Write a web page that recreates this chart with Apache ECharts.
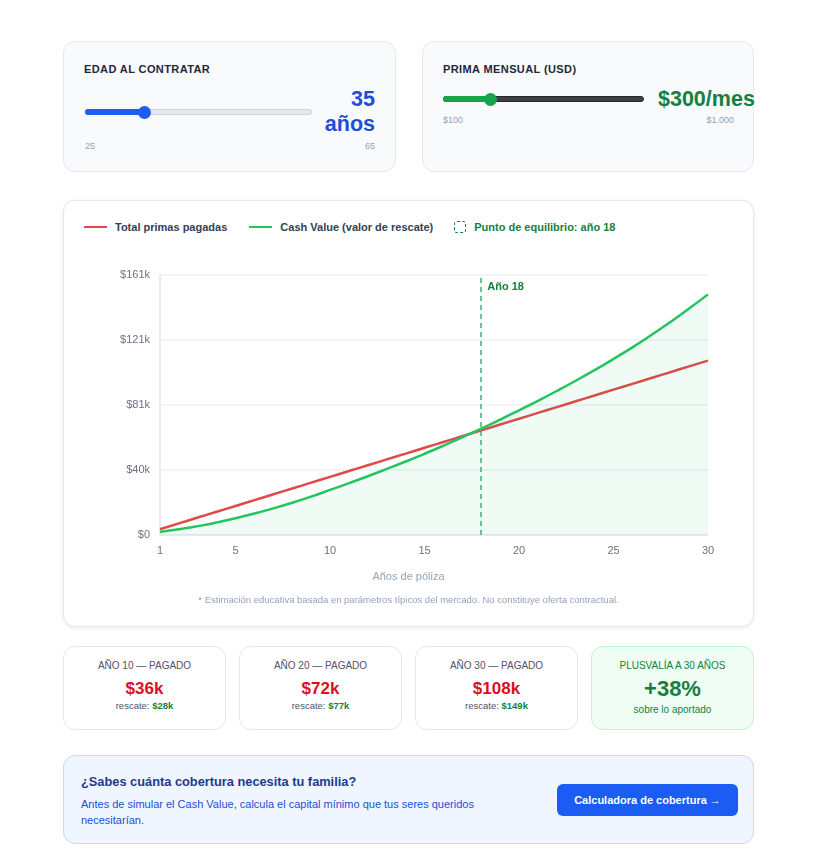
<!DOCTYPE html>
<html lang="es">
<head>
<meta charset="utf-8">
<script src="https://cdn.jsdelivr.net/npm/echarts@6/dist/echarts.min.js"></script>
<style>
  html,body{margin:0;padding:0;background:#ffffff;}
  body{width:828px;height:852px;position:relative;overflow:hidden;font-family:"Liberation Sans",Arial,Helvetica,sans-serif;}
  .card{position:absolute;box-sizing:border-box;border:1px solid #e2e8f0;border-radius:12px;}
  .ctl{background:#f8fafc;}
  .ctl-title{position:absolute;left:20px;top:21px;font-size:11px;font-weight:700;letter-spacing:0.4px;color:#1e293b;}
  .track{position:absolute;height:6px;border-radius:3px;box-sizing:border-box;}
  .fill{position:absolute;height:6px;border-radius:3px;}
  .thumb{position:absolute;width:13px;height:13px;border-radius:50%;}
  .small{position:absolute;font-size:9px;color:#94a3b8;}
  .big{position:absolute;font-size:21.5px;font-weight:700;line-height:25px;}
  .stat{background:#fff;text-align:center;}
  .stat .t{position:absolute;left:0;right:0;top:13px;font-size:10px;color:#4b5563;}
  .stat .v{position:absolute;left:0;right:0;top:32px;font-size:17px;font-weight:700;color:#dc1020;}
  .stat .s{position:absolute;left:0;right:0;top:53px;font-size:9.5px;color:#4b5563;}
  .stat .s b{color:#15803d;}
  .lg{font-weight:700;vertical-align:middle;}
</style>
</head>
<body>
<!-- control cards -->
<div class="card ctl" style="left:63px;top:41px;width:333px;height:131px;">
  <div class="ctl-title" id="ageTitle"></div>
  <div class="track" style="left:21px;top:67px;width:227px;background:#e5e7eb;border:1px solid #cbd5e1;"></div>
  <div class="fill" id="ageFill" style="left:21px;top:67px;background:#1d5cf5;"></div>
  <div class="thumb" id="ageThumb" style="top:63.5px;background:#1d5cf5;"></div>
  <div class="big" id="ageVal" style="right:20px;top:45px;text-align:right;color:#1d4ed8;"></div>
  <div class="small" id="ageMin" style="left:21px;top:99px;"></div>
  <div class="small" id="ageMax" style="right:20px;top:99px;"></div>
</div>
<div class="card ctl" style="left:422px;top:41px;width:332px;height:131px;">
  <div class="ctl-title" id="primTitle"></div>
  <div class="track" style="left:20px;top:54px;width:201px;background:#3f3f46;border:1px solid #27272a;"></div>
  <div class="fill" id="primFill" style="left:20px;top:54px;background:#16a34a;"></div>
  <div class="thumb" id="primThumb" style="top:50.5px;background:#16a34a;"></div>
  <div class="big" id="primVal" style="left:235px;top:45px;white-space:nowrap;color:#15803d;"></div>
  <div class="small" id="primMin" style="left:20px;top:73px;"></div>
  <div class="small" id="primMax" style="right:19px;top:73px;"></div>
</div>

<!-- chart card -->
<div class="card" style="left:63px;top:200px;width:691px;height:427px;background:#fff;box-shadow:0 1px 4px rgba(15,23,42,0.08);">
  <div style="position:absolute;left:20px;top:19px;font-size:11px;color:#334155;white-space:nowrap;">
    <span style="display:inline-block;width:23px;height:2.5px;background:#e24848;vertical-align:middle;margin-right:8px;"></span><span id="lg1" class="lg"></span>
    <span style="display:inline-block;width:23px;height:2.5px;background:#22c55e;vertical-align:middle;margin:0 8px 0 19px;"></span><span id="lg2" class="lg"></span>
    <span style="display:inline-block;width:10px;height:10px;border:1.2px dashed #15803d;border-radius:3px;vertical-align:middle;margin:0 8px 0 18px;"></span><span id="lg3" class="lg" style="color:#15803d;"></span>
  </div>
  <div id="chart" style="position:absolute;left:0;top:0;width:689px;height:380px;"></div>
  <div id="xname" style="position:absolute;left:0;right:0;top:369px;text-align:center;font-size:11px;color:#94a3b8;"></div>
  <div id="note" style="position:absolute;left:0;right:0;top:393px;text-align:center;font-size:9.5px;color:#94a3b8;"></div>
</div>

<!-- stat cards -->
<div class="card stat" id="st0" style="left:63px;top:646px;width:163px;height:84px;"><div class="t"></div><div class="v"></div><div class="s"></div></div>
<div class="card stat" id="st1" style="left:239px;top:646px;width:163px;height:84px;"><div class="t"></div><div class="v"></div><div class="s"></div></div>
<div class="card stat" id="st2" style="left:415px;top:646px;width:163px;height:84px;"><div class="t"></div><div class="v"></div><div class="s"></div></div>
<div class="card stat" id="st3" style="left:591px;top:646px;width:163px;height:84px;background:#f0fdf4;border-color:#bbf7d0;">
  <div class="t" style="color:#15803d;"></div>
  <div class="v" style="top:29px;font-size:22px;color:#15803d;"></div>
  <div class="s" style="top:57px;font-size:10px;color:#15803d;"></div>
</div>

<!-- CTA -->
<div class="card" style="left:63px;top:755px;width:691px;height:89px;background:#eff6ff;border-color:#bfdbfe;">
  <div id="ctaT" style="position:absolute;left:17px;top:18px;font-size:12.8px;font-weight:700;color:#1e3a8a;"></div>
  <div id="ctaD" style="position:absolute;left:17px;top:40px;width:410px;font-size:11px;line-height:16px;color:#1d4ed8;"></div>
  <div id="ctaB" style="position:absolute;left:493px;top:28px;width:181px;height:32px;line-height:32px;border-radius:6px;background:#1a5cf4;color:#fff;font-size:11px;font-weight:700;text-align:center;"></div>
</div>

<script>
// ---------- data ----------
const years = [1,2,3,4,5,6,7,8,9,10,11,12,13,14,15,16,17,18,19,20,21,22,23,24,25,26,27,28,29,30];
const totalPaid = [3600,7200,10800,14400,18000,21600,25200,28800,32400,36000,39600,43200,46800,50400,54000,57600,61200,64800,68400,72000,75600,79200,82800,86400,90000,93600,97200,100800,104400,108000];
const cashValue = [1900,3500,5500,7800,10400,13300,16500,20000,23800,27900,32100,36400,40900,45500,50300,55300,60500,65800,71400,77200,83100,89200,95500,102100,109000,116200,123800,131800,140200,149000];
const yTicks = [0,40250,80500,120750,161000];
const breakEvenYear = 18;
const age = 35, ageMin = 25, ageMax = 65;
const premium = 300, premMin = 100, premMax = 1000;
const statYears = [10,20,30];
const gainPct = 38;

const seriesNames = ['Total primas pagadas','Cash Value (valor de rescate)'];
const texts = {
  ageTitle:'EDAD AL CONTRATAR',
  primTitle:'PRIMA MENSUAL (USD)',
  lg3:'Punto de equilibrio: año ' + breakEvenYear,
  marker:'Año ' + breakEvenYear,
  xname:'Años de póliza',
  note:'* Estimación educativa basada en parámetros típicos del mercado. No constituye oferta contractual.',
  ctaT:'¿Sabes cuánta cobertura necesita tu familia?',
  ctaD:'Antes de simular el Cash Value, calcula el capital mínimo que tus seres queridos necesitarían.',
  ctaB:'Calculadora de cobertura →'
};

// ---------- controls ----------
const k = v => '$' + Math.round(v/1000) + 'k';
(function(){
  const ageTrack = 227, fa = (age-ageMin)/(ageMax-ageMin)*ageTrack*0.98 + 4;
  document.getElementById('ageTitle').textContent = texts.ageTitle;
  document.getElementById('primTitle').textContent = texts.primTitle;
  document.getElementById('ageFill').style.width = fa + 'px';
  document.getElementById('ageThumb').style.left = (21 + fa - 6.5) + 'px';
  document.getElementById('ageVal').innerHTML = age + '<br>años';
  document.getElementById('ageMin').textContent = ageMin;
  document.getElementById('ageMax').textContent = ageMax;
  const pt = 201, fp = (premium-premMin)/(premMax-premMin)*pt*0.96 + 5;
  document.getElementById('primFill').style.width = fp + 'px';
  document.getElementById('primThumb').style.left = (20 + fp - 6.5) + 'px';
  document.getElementById('primVal').textContent = '$' + premium + '/mes';
  document.getElementById('primMin').textContent = '$' + premMin;
  document.getElementById('primMax').textContent = '$1.000';
  document.getElementById('lg1').textContent = seriesNames[0];
  document.getElementById('lg2').textContent = seriesNames[1];
  document.getElementById('lg3').textContent = texts.lg3;
  document.getElementById('xname').textContent = texts.xname;
  document.getElementById('note').textContent = texts.note;
  document.getElementById('ctaT').textContent = texts.ctaT;
  document.getElementById('ctaD').textContent = texts.ctaD;
  document.getElementById('ctaB').textContent = texts.ctaB;
  statYears.forEach((y,i) => {
    const el = document.getElementById('st'+i);
    el.querySelector('.t').textContent = 'AÑO ' + y + ' — PAGADO';
    el.querySelector('.v').textContent = k(totalPaid[y-1]);
    el.querySelector('.s').innerHTML = 'rescate: <b>' + k(cashValue[y-1]) + '</b>';
  });
  const g = document.getElementById('st3');
  g.querySelector('.t').textContent = 'PLUSVALÍA A 30 AÑOS';
  g.querySelector('.v').textContent = '+' + gainPct + '%';
  g.querySelector('.s').textContent = 'sobre lo aportado';
})();

// ---------- chart ----------
const chart = echarts.init(document.getElementById('chart'), null, {renderer:'canvas'});
const font = '"Liberation Sans", Arial, sans-serif';
chart.setOption({
  animation:false,
  textStyle:{fontFamily:font},
  grid:{left:96, top:74, right:45, bottom:46, containLabel:false},
  xAxis:{
    type:'category', data:years, boundaryGap:false,
    axisLine:{lineStyle:{color:'#e2e8f0', width:1.5}},
    axisTick:{show:false},
    axisLabel:{color:'#6b7280', fontSize:11, margin:10,
      interval:(i,v)=> (+v===1 || +v%5===0)},
    splitLine:{show:false}
  },
  yAxis:{
    type:'value', min:yTicks[0], max:yTicks[yTicks.length-1], interval:yTicks[1]-yTicks[0],
    axisLine:{show:true, lineStyle:{color:'#e2e8f0', width:1.5}},
    axisTick:{show:false},
    axisLabel:{color:'#6b7280', fontSize:11, margin:10, formatter:v=>'$'+Math.round(v/1000)+(v===0?'':'k')},
    splitLine:{lineStyle:{color:'#eef1f5', width:1.5}}
  },
  series:[
    {
      name:seriesNames[0], type:'line', data:totalPaid, smooth:true, showSymbol:false,
      lineStyle:{color:'#e24848', width:2.5}, itemStyle:{color:'#e24848'}, z:3
    },
    {
      name:seriesNames[1], type:'line', data:cashValue, smooth:true, showSymbol:false,
      lineStyle:{color:'#22c55e', width:2.5}, itemStyle:{color:'#22c55e'},
      areaStyle:{color:'rgba(34,197,94,0.09)'}, z:4,
      markLine:{
        silent:true, symbol:'none',
        lineStyle:{color:'#3fae72', type:[5,4], width:1.5},
        label:{show:false},
        data:[{xAxis:String(breakEvenYear)}]
      },
      markPoint:{
        silent:true, symbol:'circle', symbolSize:0,
        label:{show:true, position:'right', distance:5, offset:[1,12], formatter:texts.marker,
          color:'#15803d', fontSize:11, fontWeight:'bold'},
        data:[{coord:[String(breakEvenYear), yTicks[yTicks.length-1]]}]
      }
    }
  ]
});
</script>
</body>
</html>
